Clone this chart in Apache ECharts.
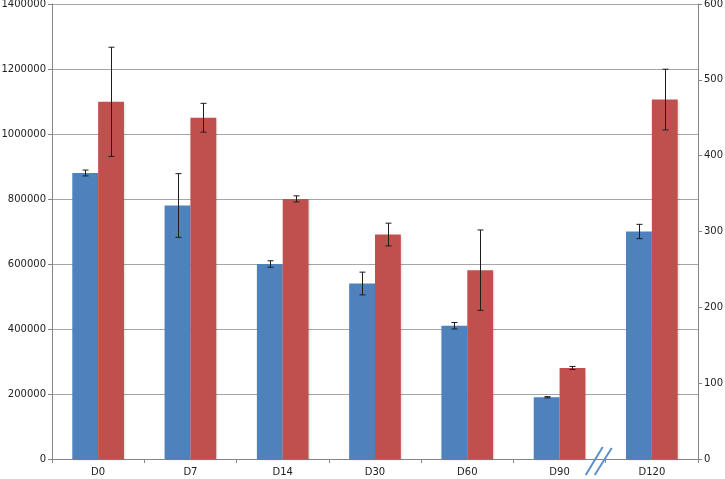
<!DOCTYPE html>
<html>
<head>
<meta charset="utf-8">
<script src="https://cdn.jsdelivr.net/npm/echarts@6/dist/echarts.min.js"></script>
<style>
  html, body { margin: 0; padding: 0; background: #fff; }
  #chart { width: 725px; height: 479px; }
</style>
</head>
<body>
<div id="chart"></div>
<script>
// 类别
const categories = ['D0', 'D7', 'D14', 'D30', 'D60', 'D90', 'D120'];
// 蓝色柱（左轴）
const blueValues = [880000, 780000, 600000, 540000, 410000, 190000, 700000];
const blueErrors = [9000, 98000, 10000, 35000, 10000, 2000, 22000];
// 红色柱（右轴）
const redValues = [471, 450, 343, 296, 249, 120, 474];
const redErrors = [72, 19, 4, 15, 53, 2, 40];
// 刻度
const leftTicks = { min: 0, max: 1400000, interval: 200000 };
const rightTicks = { min: 0, max: 600, interval: 100 };

const gapPct = 44; // barCategoryGap
const chart = echarts.init(document.getElementById('chart'));

function errData(vals, errs) {
  return vals.map((v, i) => [i, v - errs[i], v + errs[i]]);
}

// 误差线
function errRender(side) {
  return function (params, api) {
    const catW = api.size([1, 0])[0];
    const bw = catW * (1 - gapPct / 100) / 2;
    const off = side * bw / 2;
    const lo = api.coord([api.value(0), api.value(1)]);
    const hi = api.coord([api.value(0), api.value(2)]);
    const x = Math.round(lo[0] + off) + 0.5;
    const cap = 3;
    const style = { stroke: '#1e1e1e', lineWidth: 1 };
    return {
      type: 'group',
      children: [
        { type: 'line', shape: { x1: x, y1: lo[1], x2: x, y2: hi[1] }, style: style },
        { type: 'line', shape: { x1: x - cap, y1: lo[1], x2: x + cap, y2: lo[1] }, style: style },
        { type: 'line', shape: { x1: x - cap, y1: hi[1], x2: x + cap, y2: hi[1] }, style: style }
      ]
    };
  };
}

const axisLabelStyle = { color: '#222', fontSize: 10, fontFamily: 'DejaVu Sans' };
const axisLineStyle = { lineStyle: { color: '#868686', width: 1 } };
const plain = v => String(v);

const option = {
  animation: false,
  grid: { left: 52, right: 27, top: 4, bottom: 20, containLabel: false, outerBoundsMode: 'none' },
  xAxis: {
    type: 'category',
    data: categories,
    axisLine: axisLineStyle,
    axisTick: { show: true, length: 4, lineStyle: { color: '#868686' } },
    axisLabel: Object.assign({ margin: 8 }, axisLabelStyle)
  },
  yAxis: [
    {
      type: 'value',
      min: leftTicks.min, max: leftTicks.max, interval: leftTicks.interval,
      axisLine: Object.assign({ show: true }, axisLineStyle),
      axisTick: { show: true, length: 4, lineStyle: { color: '#868686' } },
      splitLine: { show: true, lineStyle: { color: '#a6a6a6', width: 1 } },
      axisLabel: Object.assign({ margin: 6, formatter: plain }, axisLabelStyle)
    },
    {
      type: 'value',
      min: rightTicks.min, max: rightTicks.max, interval: rightTicks.interval,
      position: 'right',
      axisLine: Object.assign({ show: true }, axisLineStyle),
      axisTick: { show: true, length: 4, lineStyle: { color: '#868686' } },
      splitLine: { show: false },
      axisLabel: Object.assign({ margin: 6, formatter: plain }, axisLabelStyle)
    }
  ],
  series: [
    {
      type: 'bar',
      yAxisIndex: 0,
      data: blueValues,
      barGap: '0%',
      barCategoryGap: gapPct + '%',
      itemStyle: { color: '#4f81bd', shadowColor: 'rgba(0,0,0,0.12)', shadowBlur: 2, shadowOffsetX: 1, shadowOffsetY: 1 }
    },
    {
      type: 'bar',
      yAxisIndex: 1,
      data: redValues,
      barGap: '0%',
      barCategoryGap: gapPct + '%',
      itemStyle: { color: '#c0504d', shadowColor: 'rgba(0,0,0,0.12)', shadowBlur: 2, shadowOffsetX: 1, shadowOffsetY: 1 }
    },
    {
      type: 'custom',
      yAxisIndex: 0,
      data: errData(blueValues, blueErrors),
      encode: { x: 0, y: [1, 2] },
      renderItem: errRender(-1),
      z: 10
    },
    {
      type: 'custom',
      yAxisIndex: 1,
      data: errData(redValues, redErrors),
      encode: { x: 0, y: [1, 2] },
      renderItem: errRender(1),
      z: 10
    }
  ]
};
chart.setOption(option);

// 坐标轴断裂标记 “//”（D90 与 D120 之间）
const p90 = chart.convertToPixel({ xAxisIndex: 0 }, 'D90');
const p120 = chart.convertToPixel({ xAxisIndex: 0 }, 'D120');
const bx = (p90 + p120) / 2 - 7;
const by = chart.convertToPixel({ yAxisIndex: 0 }, 0) + 2;
chart.setOption({
  graphic: [
    { type: 'line', shape: { x1: bx - 13, y1: by + 14, x2: bx + 4, y2: by - 14 }, style: { stroke: '#5b8fd0', lineWidth: 2 }, z: 100 },
    { type: 'line', shape: { x1: bx - 4, y1: by + 14, x2: bx + 13, y2: by - 13 }, style: { stroke: '#5b8fd0', lineWidth: 2 }, z: 100 }
  ]
});
</script>
</body>
</html>
